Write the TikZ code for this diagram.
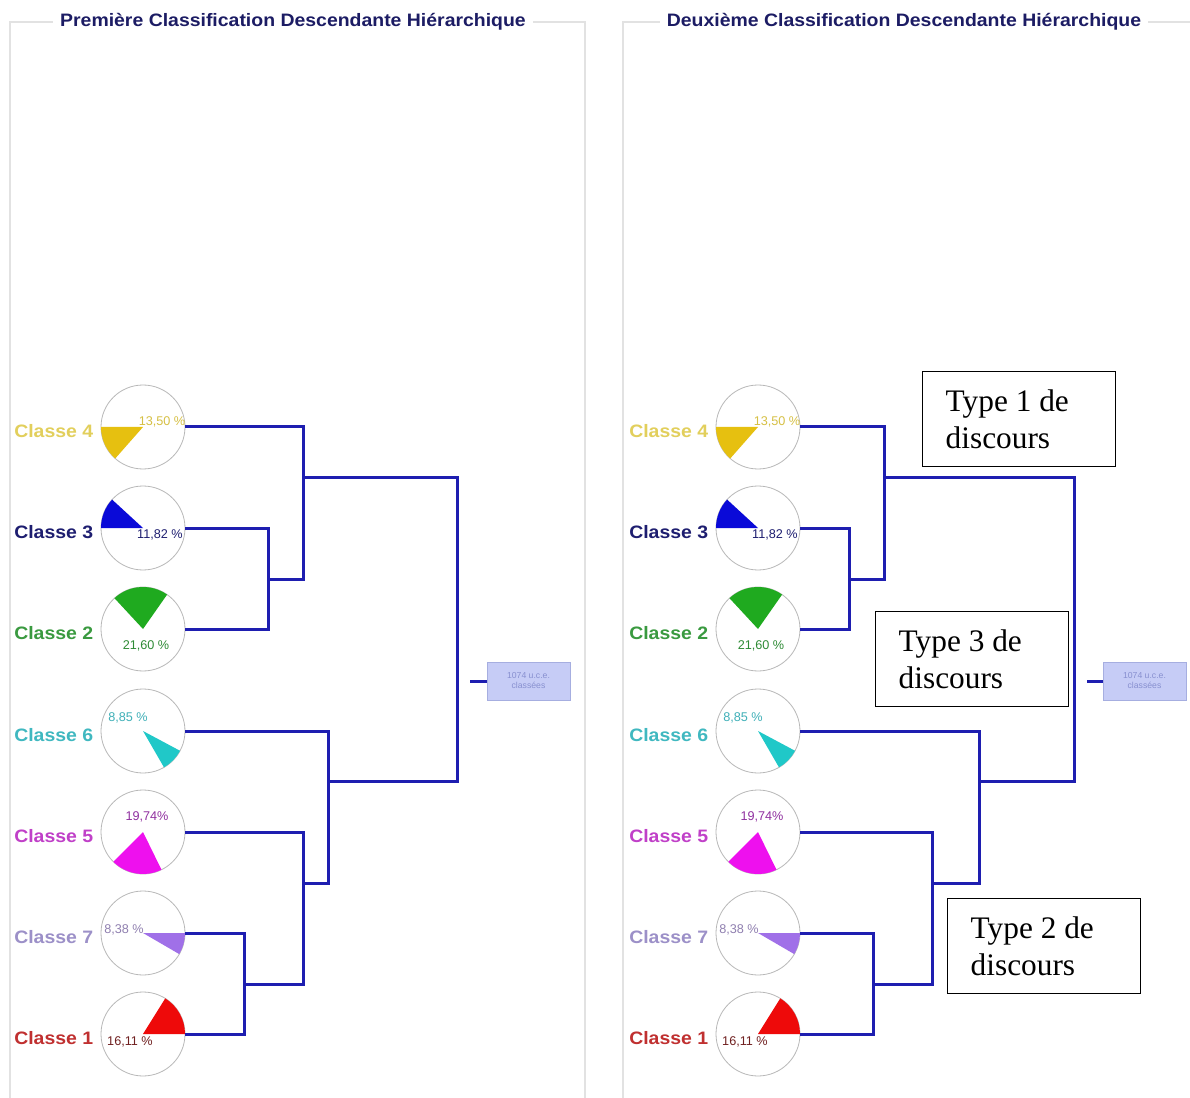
\documentclass[tikz,border=0pt]{standalone}
\usepackage{fontspec}
\setmainfont{Liberation Serif}
\newfontfamily\labfont[FakeStretch=1.08]{Liberation Sans}
\newfontfamily\pctfont{Liberation Sans}
\definecolor{framegray}{HTML}{E2E2E2}
\definecolor{titleblue}{HTML}{1C1C64}
\definecolor{piegray}{HTML}{B8B8B8}
\definecolor{dendblue}{HTML}{1E1EB0}
\definecolor{ucefill}{HTML}{C6CCF6}
\definecolor{ucedraw}{HTML}{A6AEE0}
\definecolor{ucetext}{HTML}{8890D0}
\definecolor{w4}{HTML}{E6C010}\definecolor{l4}{HTML}{E2CF5C}\definecolor{t4}{HTML}{D6C044}
\definecolor{w3}{HTML}{0A0AD8}\definecolor{l3}{HTML}{1E1E70}\definecolor{t3}{HTML}{1E1E70}
\definecolor{w2}{HTML}{1FAA1F}\definecolor{l2}{HTML}{3A9A40}\definecolor{t2}{HTML}{2E8B35}
\definecolor{w6}{HTML}{20C8C8}\definecolor{l6}{HTML}{40B8C0}\definecolor{t6}{HTML}{40B0B8}
\definecolor{w5}{HTML}{EE10EE}\definecolor{l5}{HTML}{C040C8}\definecolor{t5}{HTML}{9030A0}
\definecolor{w7}{HTML}{A070E8}\definecolor{l7}{HTML}{9C90C8}\definecolor{t7}{HTML}{9080B0}
\definecolor{w1}{HTML}{EE0A0A}\definecolor{l1}{HTML}{C03030}\definecolor{t1}{HTML}{702020}
\begin{document}
\begin{tikzpicture}[x=0.75pt,y=-0.75pt,
  frame/.style={draw=framegray, line width=1.1pt},
  title/.style={fill=white, text=titleblue, font=\labfont\bfseries\fontsize{13.5}{16}\selectfont, inner xsep=5pt, inner ysep=2pt},
  pie/.style={circle, draw=piegray, line width=0.6pt, fill=white, minimum size=63pt, inner sep=0pt},
  cls/.style={anchor=base west, inner sep=0pt, font=\labfont\bfseries\fontsize{13.5}{16}\selectfont},
  pct/.style={font=\pctfont\fontsize{9.5}{11}\selectfont, inner sep=0pt},
  dend/.style={draw=dendblue, line width=2.25pt},
  ucebox/.style={draw=ucedraw, fill=ucefill, line width=0.6pt, minimum width=62.25pt, minimum height=28.5pt, align=center, font=\pctfont\fontsize{6.5}{7.5}\selectfont, text=ucetext, inner sep=1pt},
  typebox/.style={draw=black, line width=1.1pt, fill=white, align=flush left, text width=110pt, inner xsep=17.25pt, minimum height=71.25pt, font=\fontsize{23.5}{27.5}\selectfont}]
\useasboundingbox[fill=white] (0,0) rectangle (1190,1098);
\begin{scope}
\clip (0,0) rectangle (1190,1098);
\draw[frame] (10,1110) -- (10,22) -- (585,22) -- (585,1110);
\draw[frame] (623,1110) -- (623,22) -- (1210,22);
\end{scope}
\node[title] (titleL) at (293,22) {Première Classification Descendante Hiérarchique};
\node[title] (titleR) at (904,22) {Deuxième Classification Descendante Hiérarchique};
% pies
\foreach \side/\sx in {L/0,R/615}{
 \foreach \k/\y/\a/\b/\p/\px/\py in {4/427/180/228.6/{13,50 \%}/19/-5, 3/528/137.4/180/{11,82 \%}/17/7, 2/629/55/132.8/{21,60 \%}/3/17, 6/731/-60/-28.1/{8,85 \%}/-15/-13, 5/832/225/296.1/{19,74\%}/4/-15, 7/933/-30.2/0/{8,38 \%}/-19/-3, 1/1034/0/58/{16,11 \%}/-13/8}{
   \node[pie] (p\k\side) at (143+\sx,\y) {};
   \fill[w\k] (p\k\side.center) -- ++(\a:31.5pt) arc[start angle=\a, end angle=\b, radius=31.5pt] -- cycle;
   \node[pct, text=t\k] (q\k\side) at (143+\sx+\px,\y+\py) {\p};
   \node[cls, text=l\k] (c\k\side) at (14+\sx,\y+10.5) {Classe \k};
 }}
% left dendrogram
\coordinate (j32L) at (268,579);
\coordinate (j432L) at (303,478);
\coordinate (rootL) at (457,681);
\coordinate (j6L) at (328,781);
\coordinate (j571L) at (303,883);
\coordinate (j71L) at (244,984);
\coordinate (sL) at (470,681);
\draw[dend] (p3L.east) -| (j32L) |- (p2L.east);
\draw[dend] (p4L.east) -| (j432L) |- (j32L);
\draw[dend] (j432L) -| (rootL) |- (j6L);
\draw[dend] (p6L.east) -| (j6L) |- (j571L);
\draw[dend] (p5L.east) -| (j571L) |- (j71L);
\draw[dend] (p7L.east) -| (j71L) |- (p1L.east);
\node[ucebox] (uL) at (528.5,681) {1074 u.c.e.\\classées};
\draw[dend] (sL) -- (uL.west);
% right dendrogram
\coordinate (j32R) at (849,579);
\coordinate (j432R) at (884,478);
\coordinate (rootR) at (1074,681);
\coordinate (j6R) at (979,781);
\coordinate (j571R) at (932,883);
\coordinate (j71R) at (873,984);
\coordinate (sR) at (1087,681);
\draw[dend] (p3R.east) -| (j32R) |- (p2R.east);
\draw[dend] (p4R.east) -| (j432R) |- (j32R);
\draw[dend] (j432R) -| (rootR) |- (j6R);
\draw[dend] (p6R.east) -| (j6R) |- (j571R);
\draw[dend] (p5R.east) -| (j571R) |- (j71R);
\draw[dend] (p7R.east) -| (j71R) |- (p1R.east);
\node[ucebox] (uR) at (1144.5,681) {1074 u.c.e.\\classées};
\draw[dend] (sR) -- (uR.west);
% annotation boxes
\node[typebox, anchor=north west] (ty1) at (922,371) {Type 1 de\\discours};
\node[typebox, anchor=north west] (ty3) at (875,611) {Type 3 de\\discours};
\node[typebox, anchor=north west] (ty2) at (947,898) {Type 2 de\\discours};
\end{tikzpicture}
\end{document}
